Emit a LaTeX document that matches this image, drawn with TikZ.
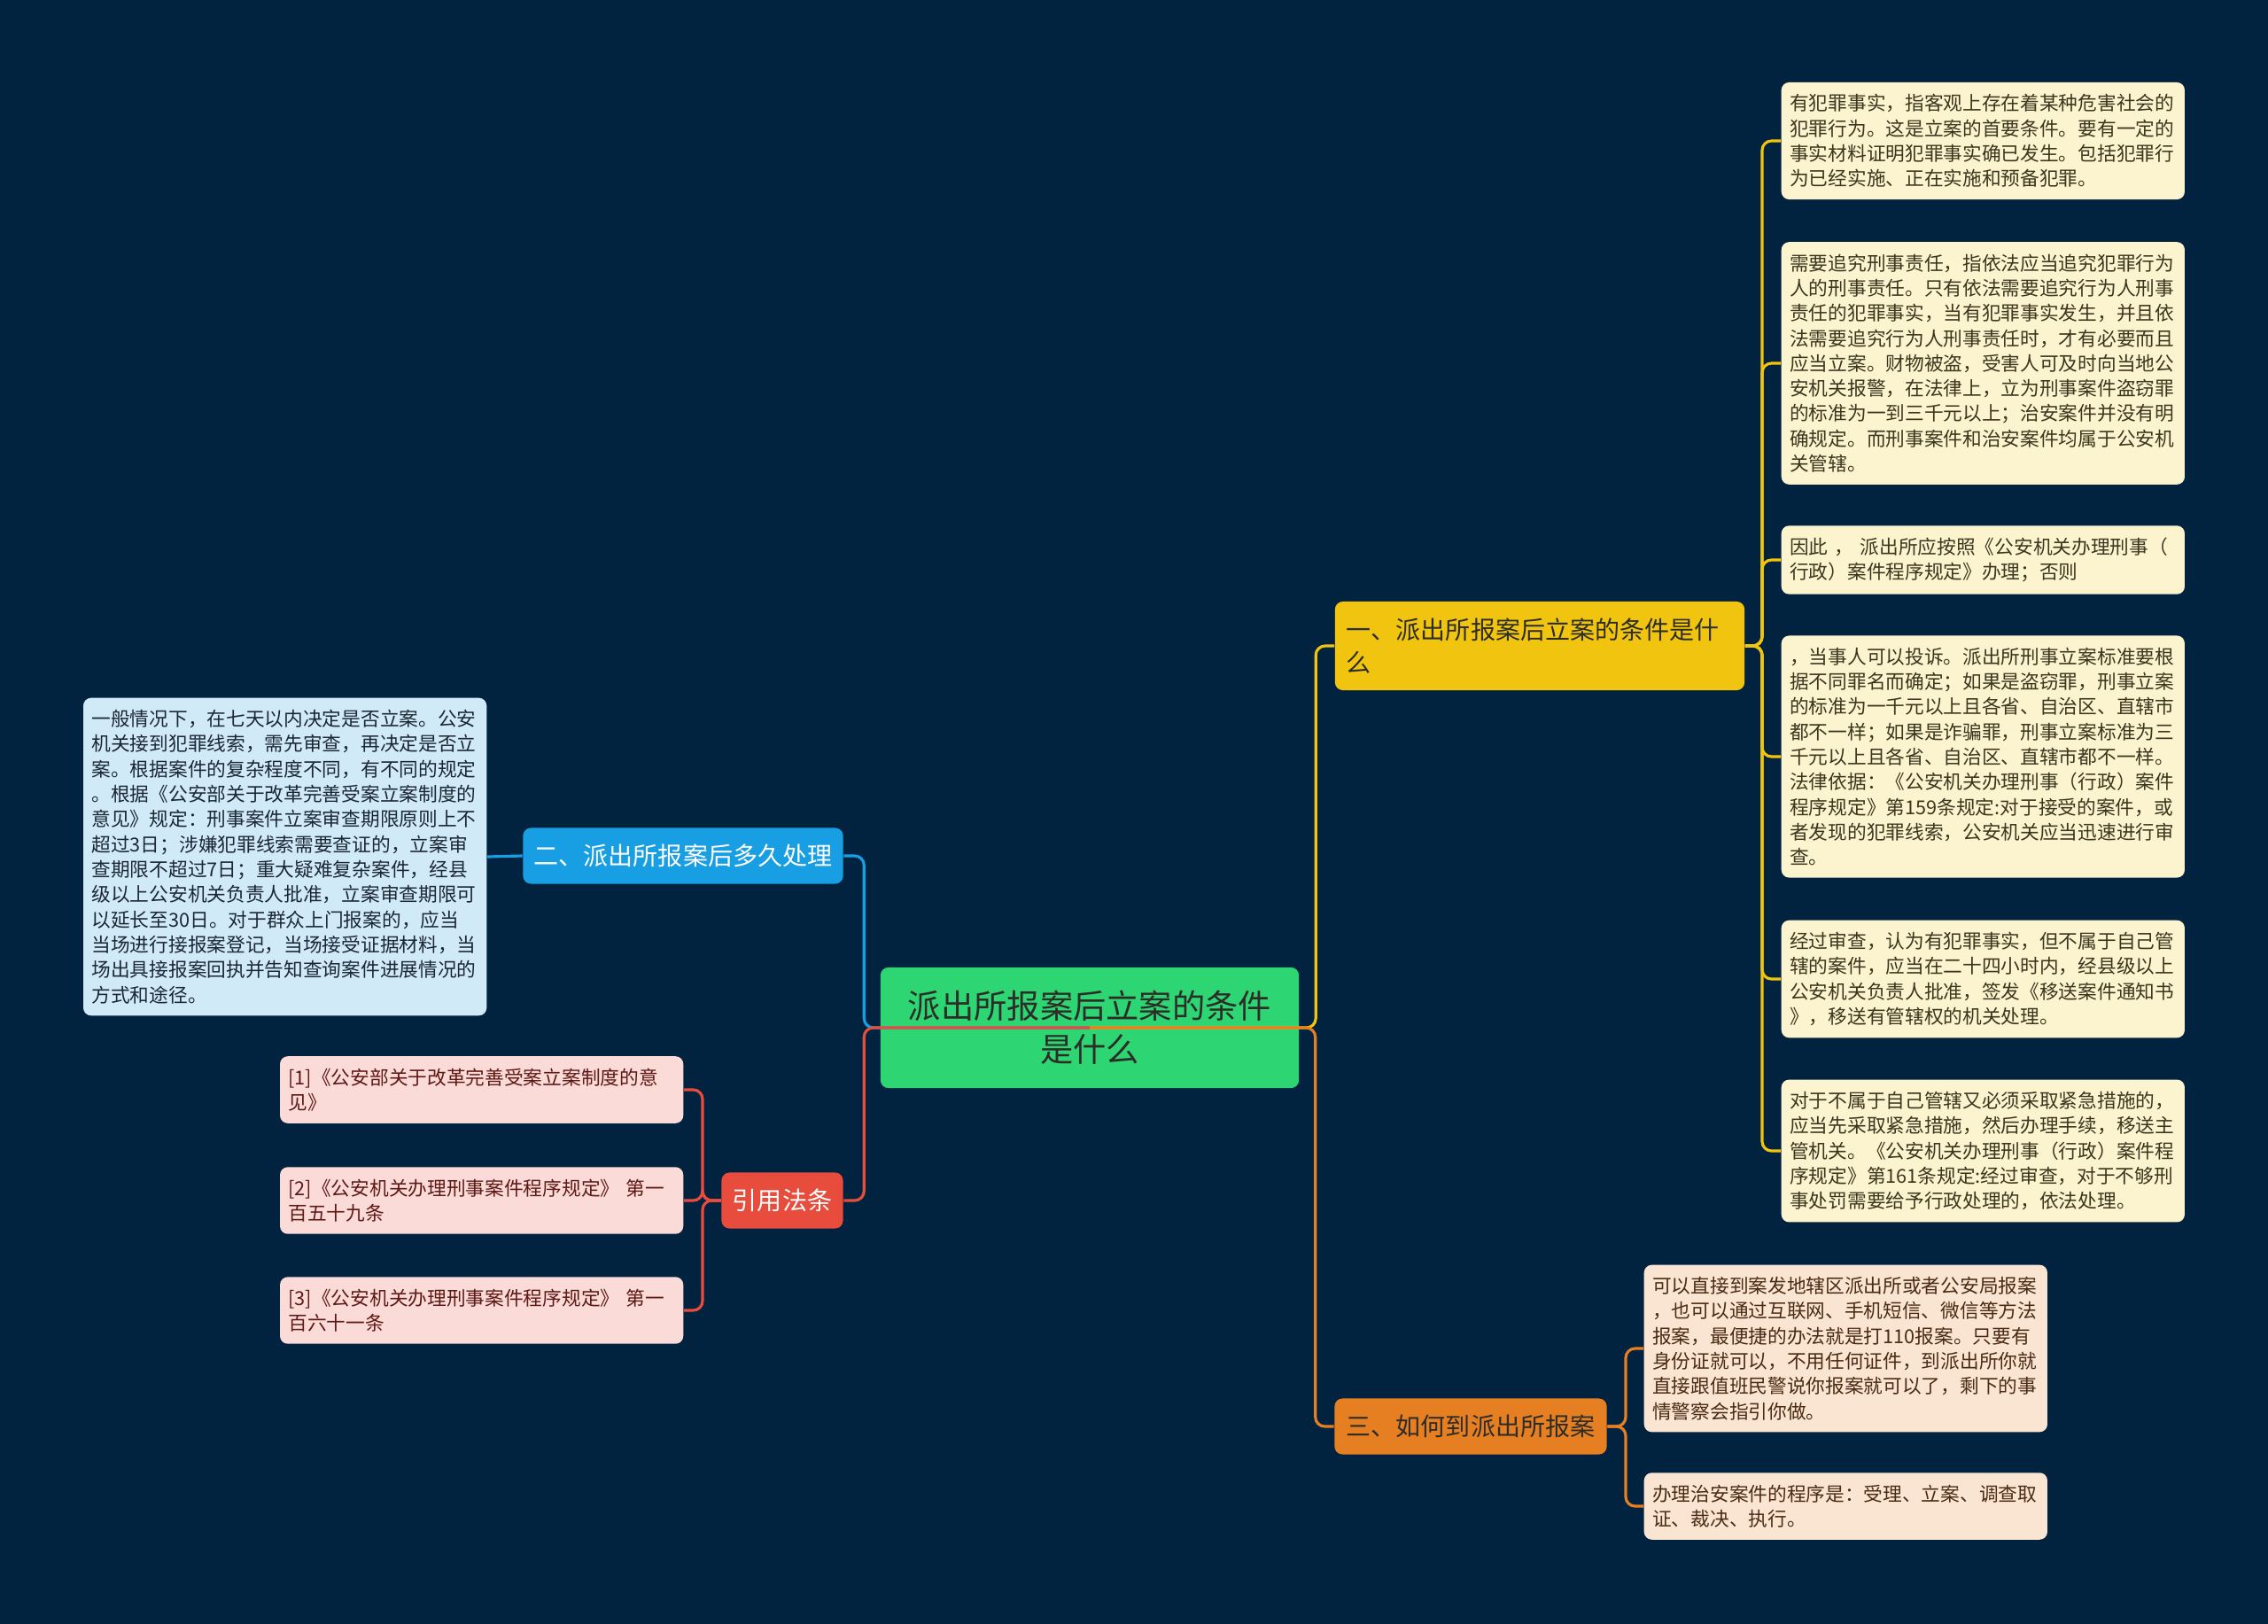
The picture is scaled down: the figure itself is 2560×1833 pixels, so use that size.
\documentclass[tikz,border=0pt]{standalone}
\usepackage{fontspec}
\setmainfont{Noto Sans CJK SC}
\usepackage{tikz}
\usetikzlibrary{calc}

\definecolor{bgcol}{RGB}{2,35,64}
\definecolor{rootcol}{RGB}{46,213,115}
\definecolor{ycol}{RGB}{241,196,15}
\definecolor{bcol}{RGB}{24,158,226}
\definecolor{rcol}{RGB}{231,76,60}
\definecolor{ocol}{RGB}{230,126,34}
\definecolor{yleafcol}{RGB}{252,243,207}
\definecolor{oleafcol}{RGB}{250,229,211}
\definecolor{bleafcol}{RGB}{209,234,248}
\definecolor{rleafcol}{RGB}{250,219,216}
\definecolor{darktxt}{RGB}{45,45,40}

\newcommand{\leaffont}{\fontsize{6.17pt}{8.05pt}\selectfont}
\newcommand{\branchfont}{\fontsize{7.97pt}{10.7pt}\selectfont}
\newcommand{\rootfont}{\fontsize{10.6pt}{14pt}\selectfont}

\begin{document}
\begin{tikzpicture}[
    x=0.01cm, y=-0.01cm,
    root/.style={
        fill=rootcol, rounded corners=2.5pt, font=\rootfont, text=darktxt,
        minimum width=4.72cm, minimum height=1.36cm, align=center
    },
    branch/.style={
        rounded corners=2.5pt, font=\branchfont,
        minimum height=0.63cm, align=left
    },
    leaf/.style={
        rounded corners=2.5pt, font=\leaffont, text width=4.36cm,
        inner xsep=0.095cm, inner ysep=0.135cm, align=left
    },
    yleaf/.style={leaf, fill=yleafcol, text={rgb,255:red,59;green,54;blue,30}},
    oleaf/.style={leaf, fill=oleafcol, text={rgb,255:red,74;green,43;blue,19}},
    bleaf/.style={leaf, fill=bleafcol, text={rgb,255:red,27;green,40;blue,52}},
    rleaf/.style={leaf, fill=rleafcol, text={rgb,255:red,95;green,25;blue,20}},
    link/.style={line width=0.9pt, rounded corners=3pt},
    yline/.style={link, draw=ycol},
    bline/.style={link, draw=bcol},
    rline/.style={link, draw=rcol},
    oline/.style={link, draw=ocol}
]

\fill[bgcol] (0,0) rectangle (2560,1833);
\useasboundingbox (0,0) rectangle (2560,1833);

\node[root] (root) at (1230,1160) {派出所报案后立案的条件\\是什么};

\node[branch, fill=ycol, text=darktxt, text width=4.36cm, inner xsep=0.13cm, minimum height=1.0cm] (b1) at (1738,729) {一、派出所报案后立案的条件是什\\么};
\node[branch, fill=bcol, text=white, minimum width=3.61cm] (b2) at (771,966) {二、派出所报案后多久处理};
\node[branch, fill=rcol, text=white, minimum width=1.37cm] (ref) at (883,1355) {引用法条};
\node[branch, fill=ocol, text=darktxt, minimum width=3.07cm] (b3) at (1660,1610) {三、如何到派出所报案};

\node[yleaf, anchor=west] (l1) at (2010,159) {有犯罪事实，指客观上存在着某种危害社会的\\犯罪行为。这是立案的首要条件。要有一定的\\事实材料证明犯罪事实确已发生。包括犯罪行\\为已经实施、正在实施和预备犯罪。};
\node[yleaf, anchor=west] (l2) at (2010,410) {需要追究刑事责任，指依法应当追究犯罪行为\\人的刑事责任。只有依法需要追究行为人刑事\\责任的犯罪事实，当有犯罪事实发生，并且依\\法需要追究行为人刑事责任时，才有必要而且\\应当立案。财物被盗，受害人可及时向当地公\\安机关报警，在法律上，立为刑事案件盗窃罪\\的标准为一到三千元以上；治安案件并没有明\\确规定。而刑事案件和治安案件均属于公安机\\关管辖。};
\node[yleaf, anchor=west] (l3) at (2010,632) {因此 ， 派出所应按照《公安机关办理刑事（\\行政）案件程序规定》办理；否则};
\node[yleaf, anchor=west] (l4) at (2010,854) {，当事人可以投诉。派出所刑事立案标准要根\\据不同罪名而确定；如果是盗窃罪，刑事立案\\的标准为一千元以上且各省、自治区、直辖市\\都不一样；如果是诈骗罪，刑事立案标准为三\\千元以上且各省、自治区、直辖市都不一样。\\法律依据：《公安机关办理刑事（行政）案件\\程序规定》第159条规定:对于接受的案件，或\\者发现的犯罪线索，公安机关应当迅速进行审\\查。};
\node[yleaf, anchor=west] (l5) at (2010,1105) {经过审查，认为有犯罪事实，但不属于自己管\\辖的案件，应当在二十四小时内，经县级以上\\公安机关负责人批准，签发《移送案件通知书\\》，移送有管辖权的机关处理。};
\node[yleaf, anchor=west] (l6) at (2010,1299) {对于不属于自己管辖又必须采取紧急措施的，\\应当先采取紧急措施，然后办理手续，移送主\\管机关。《公安机关办理刑事（行政）案件程\\序规定》第161条规定:经过审查，对于不够刑\\事处罚需要给予行政处理的，依法处理。};

\node[oleaf, anchor=west] (m1) at (1855,1522) {可以直接到案发地辖区派出所或者公安局报案\\，也可以通过互联网、手机短信、微信等方法\\报案，最便捷的办法就是打110报案。只要有\\身份证就可以，不用任何证件，到派出所你就\\直接跟值班民警说你报案就可以了，剩下的事\\情警察会指引你做。};
\node[oleaf, anchor=west] (m2) at (1855,1700) {办理治安案件的程序是：受理、立案、调查取\\证、裁决、执行。};

\node[bleaf, anchor=east] (lb) at (550,967) {一般情况下，在七天以内决定是否立案。公安\\机关接到犯罪线索，需先审查，再决定是否立\\案。根据案件的复杂程度不同，有不同的规定\\。根据《公安部关于改革完善受案立案制度的\\意见》规定：刑事案件立案审查期限原则上不\\超过3日；涉嫌犯罪线索需要查证的，立案审\\查期限不超过7日；重大疑难复杂案件，经县\\级以上公安机关负责人批准，立案审查期限可\\以延长至30日。对于群众上门报案的，应当\\当场进行接报案登记，当场接受证据材料，当\\场出具接报案回执并告知查询案件进展情况的\\方式和途径。};

\node[rleaf, anchor=east] (r1) at (772,1230) {[1]《公安部关于改革完善受案立案制度的意\\见》};
\node[rleaf, anchor=east] (r2) at (772,1355) {[2]《公安机关办理刑事案件程序规定》 第一\\百五十九条};
\node[rleaf, anchor=east] (r3) at (772,1479) {[3]《公安机关办理刑事案件程序规定》 第一\\百六十一条};

\draw[bline] (root.center) -| ($(b2.east)+(23,0)$) -- (b2.east);
\draw[rline] (root.center) -| ($(ref.east)+(23,0)$) -- (ref.east);
\draw[yline] (root.center) -| ($(b1.west)+(-21,0)$) -- (b1.west);
\draw[oline] (root.center) -| ($(b3.west)+(-21,0)$) -- (b3.west);

\foreach \n in {l1,l2,l3,l4,l5,l6}
    \draw[yline] (b1.east) -| ($(\n.west)+(-21,0)$) -- (\n.west);
\foreach \n in {m1,m2}
    \draw[oline] (b3.east) -| ($(\n.west)+(-20,0)$) -- (\n.west);
\foreach \n in {r1,r2,r3}
    \draw[rline] (ref.west) -| ($(\n.east)+(21,0)$) -- (\n.east);
\draw[bline] (b2.west) -- (lb.east);

\end{tikzpicture}
\end{document}
